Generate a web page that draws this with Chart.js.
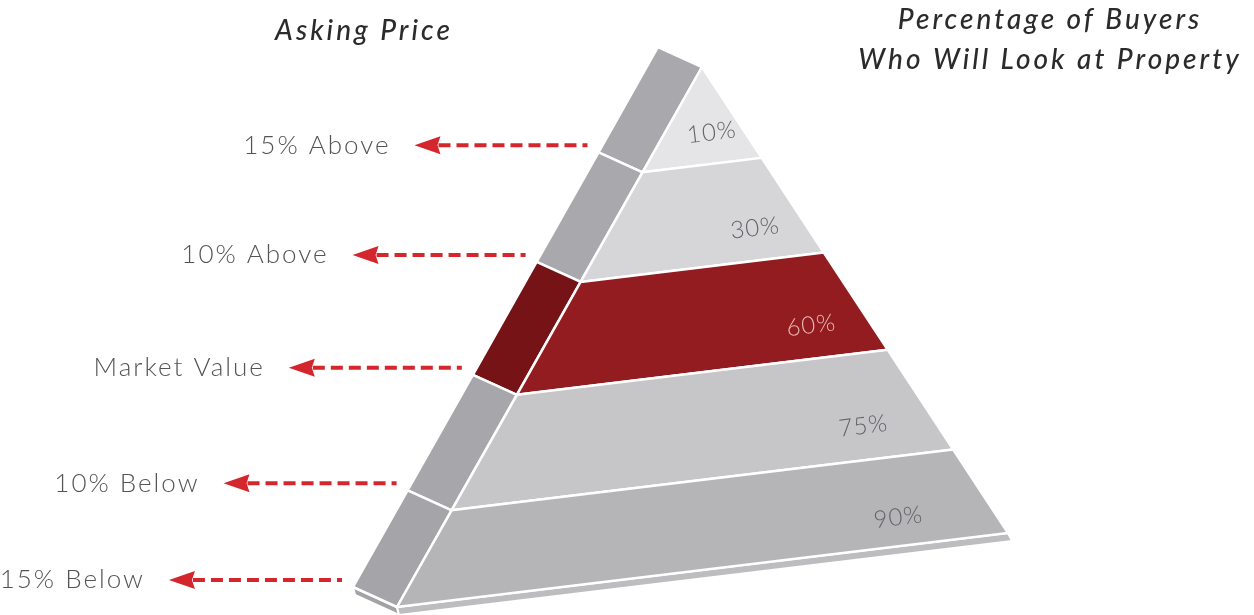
<!DOCTYPE html>
<html>
<head>
<meta charset="utf-8">
<script src="https://cdn.jsdelivr.net/npm/chart.js@4.4.1/dist/chart.umd.min.js"></script>
<style>
    html, body { margin: 0; padding: 0; background: #fff; overflow: hidden; }
    #wrap { width: 1254px; height: 615px; }
</style>
</head>
<body>
<div id="wrap"><canvas id="chart-pyramid"></canvas></div>
<script>
// Data
const askingPrice = ['15% Above', '10% Above', 'Market Value', '10% Below', '15% Below'];
const buyerPct = [10, 30, 60, 75, 90];
const highlightTier = 2; // Market Value
const titleLeft = 'Asking Price';
const titleRight = ['Percentage of Buyers', 'Who Will Look at Property'];

// Layout (design grid = 1254 x 615)
const apex = { x: 702, y: 67 };
const baseLeft = { x: 397, y: 607 };
const baseRight = { x: 1008, y: 533 };
const sideOffset = { x: -44, y: -20 };
const tierBreaks = [0, 0.195, 0.398, 0.607, 0.821, 1];
const slabDepth = 8;
const labelU = [0.62, 0.76, 0.83, 0.85, 0.84];
const labelV = 0.68;
const frontColors = ['#e5e4e6', '#d6d6d9', '#931c20', '#c6c6c9', '#b5b5b8'];
const sideColors = ['#a9a8ac', '#a9a8ac', '#761316', '#a7a6aa', '#a5a4a8'];
const arrowColor = '#d3262d';
const FONT = "Lato, 'Open Sans', sans-serif";

const pyramidPlugin = {
    id: 'pyramid',
    beforeDatasetsDraw(chart) {
        const { ctx } = chart;
        const sx = chart.scales.x, sy = chart.scales.y;
        const px = p => [sx.getPixelForValue(p.x), sy.getPixelForValue(p.y)];
        const lerp = (a, b, k) => ({ x: a.x + (b.x - a.x) * k, y: a.y + (b.y - a.y) * k });
        const left = t => lerp(apex, baseLeft, t);
        const right = t => lerp(apex, baseRight, t);
        const side = p => ({ x: p.x + sideOffset.x, y: p.y + sideOffset.y });
        const shift = (p, dx, dy) => ({ x: p.x + dx, y: p.y + dy });

        function poly(pts, fill, stroke, lw) {
            ctx.beginPath();
            pts.forEach((p, i) => {
                const [x, y] = px(p);
                if (i === 0) ctx.moveTo(x, y); else ctx.lineTo(x, y);
            });
            ctx.closePath();
            ctx.fillStyle = fill;
            ctx.fill();
            if (stroke) {
                ctx.strokeStyle = stroke;
                ctx.lineWidth = lw || 2;
                ctx.lineJoin = 'round';
                ctx.stroke();
            }
        }

        ctx.save();

        // base slab
        poly([side(baseLeft), baseLeft, shift(baseLeft, 2, slabDepth), shift(side(baseLeft), 2, slabDepth)], '#a3a2a6', '#fff', 2);
        poly([baseLeft, baseRight, shift(baseRight, 4, slabDepth), shift(baseLeft, 2, slabDepth)], '#bdbdc0', '#fff', 2);

        // tiers
        buyerPct.forEach((v, i) => {
            const t0 = tierBreaks[i], t1 = tierBreaks[i + 1];
            poly([side(left(t0)), left(t0), left(t1), side(left(t1))], sideColors[i], '#fff', 2.5);
            poly([left(t0), right(t0), right(t1), left(t1)], frontColors[i], '#fff', 2.5);
        });

        // percentage labels
        buyerPct.forEach((v, i) => {
            const t = tierBreaks[i] + labelV * (tierBreaks[i + 1] - tierBreaks[i]);
            const a = px(left(t)), b = px(right(t));
            const [x, y] = px(lerp(left(t), right(t), labelU[i]));
            ctx.save();
            ctx.translate(x, y);
            ctx.rotate(Math.atan2(b[1] - a[1], b[0] - a[0]));
            ctx.font = '300 24px ' + FONT;
            ctx.letterSpacing = '1px';
            ctx.textAlign = 'center';
            ctx.textBaseline = 'middle';
            ctx.fillStyle = i === highlightTier ? '#e9b6b0' : '#646468';
            ctx.fillText(v + '%', 0, 0);
            ctx.restore();
        });

        // arrows + asking price labels
        const sApex = side(apex), sBase = side(baseLeft);
        askingPrice.forEach((label, i) => {
            const yv = side(left(tierBreaks[i + 1])).y - 7;
            const k = (yv - sApex.y) / (sBase.y - sApex.y);
            const tail = sApex.x + k * (sBase.x - sApex.x) - 15;
            const head = tail - 173;
            const [hx, hy] = px({ x: head, y: yv });
            const [tx] = px({ x: tail, y: yv });

            ctx.strokeStyle = arrowColor;
            ctx.lineWidth = 4;
            ctx.setLineDash([12, 6]);
            ctx.beginPath();
            ctx.moveTo(hx + 24, hy);
            ctx.lineTo(tx, hy);
            ctx.stroke();
            ctx.setLineDash([]);

            ctx.fillStyle = arrowColor;
            ctx.beginPath();
            ctx.moveTo(hx, hy);
            ctx.lineTo(hx + 26, hy - 9);
            ctx.lineTo(hx + 23, hy);
            ctx.lineTo(hx + 26, hy + 9);
            ctx.closePath();
            ctx.fill();

            ctx.font = '300 26px ' + FONT;
            ctx.letterSpacing = '2px';
            ctx.textAlign = 'right';
            ctx.textBaseline = 'middle';
            ctx.fillStyle = '#545457';
            ctx.fillText(label, hx - 24, hy);
        });

        // titles
        ctx.font = 'italic 500 28px ' + FONT;
        ctx.letterSpacing = '3px';
        ctx.textAlign = 'center';
        ctx.textBaseline = 'middle';
        ctx.fillStyle = '#2b2b2b';
        let [x0, y0] = px({ x: 364, y: 31 });
        ctx.fillText(titleLeft, x0, y0);
        titleRight.forEach((line, i) => {
            const [x1, y1] = px({ x: 1050, y: 20 + i * 40 });
            ctx.fillText(line, x1, y1);
        });

        ctx.restore();
    }
};

new Chart(document.getElementById('chart-pyramid'), {
    type: 'scatter',
    data: { datasets: [{ data: [] }] },
    options: {
        responsive: true,
        maintainAspectRatio: false,
        animation: false,
        layout: { padding: 0 },
        plugins: {
            legend: { display: false },
            tooltip: { enabled: false }
        },
        scales: {
            x: { type: 'linear', min: 0, max: 1254, display: false },
            y: { type: 'linear', min: 0, max: 615, reverse: true, display: false }
        }
    },
    plugins: [pyramidPlugin]
});
</script>
</body>
</html>
